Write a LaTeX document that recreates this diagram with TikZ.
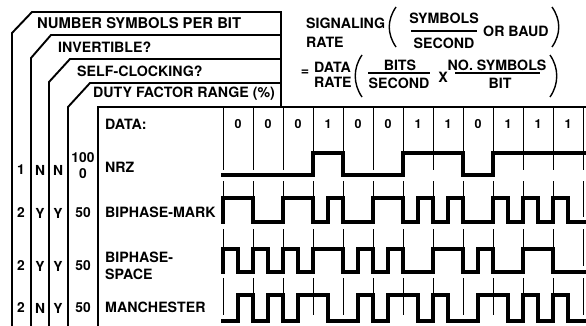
\documentclass[tikz,border=0pt]{standalone}
\usepackage{fontspec}
\setmainfont{TeX Gyre Heros}
\tikzset{
  frame/.style={line width=1.9pt, line join=miter},
  wave/.style={line width=3.6pt, line join=miter, line cap=rect},
  tick/.style={line width=0.9pt},
  paren/.style={line width=1.4pt},
  lbl/.style={font=\fontsize{14.2}{14}\selectfont\bfseries, inner sep=0pt},
  big/.style={font=\fontsize{14.8}{14}\selectfont\bfseries, inner sep=0pt},
  sml/.style={font=\fontsize{13.8}{12}\selectfont\bfseries, inner sep=0pt},
  dig/.style={font=\fontsize{12.5}{12}\selectfont\bfseries, inner sep=0pt},
}
\begin{document}
\begin{tikzpicture}[x=1pt,y=-1pt]
\useasboundingbox (0,0) rectangle (586,326);
% header bands
\draw[frame] (12,326) -- (12,33) -- (32,12) -- (281,12) -- (281,107);
\draw[frame] (31,326) -- (31,58) -- (51,35) -- (281,35);
\draw[frame] (49,326) -- (49,82) -- (70,59) -- (281,59);
\draw[frame] (68,326) -- (68,107) -- (90,83) -- (281,83);
\draw[frame] (98,326) -- (98,107) -- (586,107);
\node[big, anchor=west] (h1) at (37,23) {NUMBER SYMBOLS PER BIT};
\node[lbl, anchor=west] (h2) at (58,47) {INVERTIBLE?};
\node[lbl, anchor=west] (h3) at (77,71) {SELF-CLOCKING?};
\node[lbl, anchor=west] (h4) at (93,94) {DUTY FACTOR RANGE (\%)};
% formula
\node[lbl, anchor=west] (f1) at (306,23) {SIGNALING};
\node[lbl, anchor=west] (f2) at (306,42) {RATE};
\node[lbl] (f3) at (444,18) {SYMBOLS};
\node[lbl] (f4) at (444,43) {SECOND};
\draw[line width=1.1pt] (411,31) -- (477,31);
\node[lbl, anchor=west] (f5) at (483,31) {OR BAUD};
\draw[paren] (396,7) .. controls (387,20) and (387,34) .. (396,47);
\draw[paren] (552,7) .. controls (561,20) and (561,34) .. (552,47);
\node[lbl] (eq) at (305,73) {=};
\node[lbl, anchor=west] (f6) at (314,67) {DATA};
\node[lbl, anchor=west] (f7) at (314,82) {RATE};
\draw[paren] (362,55) .. controls (353,68) and (353,84) .. (362,97);
\node[lbl] (f8) at (400,65) {BITS};
\node[lbl] (f9) at (399,83) {SECOND};
\draw[line width=1.1pt] (368,73) -- (430,73);
\node[lbl] (fx) at (443,77) {X};
\node[lbl] (f10) at (497,65) {NO. SYMBOLS};
\node[lbl] (f11) at (500,83) {BIT};
\draw[line width=1.1pt] (455,73) -- (540,73);
\draw[paren] (550,55) .. controls (559,68) and (559,84) .. (550,97);
% data row
\node[lbl, anchor=west] (data) at (105,124) {DATA:};
\foreach \b [count=\i from 0] in {0,0,0,1,0,0,1,1,0,1,1,1}
  \node[dig] (d\i) at (238+30*\i,124) {\b};
\foreach \i in {0,...,12} {
  \draw[tick] (223+30*\i,107) -- (223+30*\i,170);
  \draw[tick] (223+30*\i,181) -- (223+30*\i,217);
  \draw[tick] (223+30*\i,229) -- (223+30*\i,266);
  \draw[tick] (223+30*\i,278) -- (223+30*\i,315);
}
% rows
\node[sml] (r1a) at (21,170) {1};
\node[sml] (r1b) at (40,170) {N};
\node[sml] (r1c) at (58,170) {N};
\node[sml] (r1d) at (83,158) {100};
\node[sml] (r1e) at (83,174) {0};
\node[lbl, anchor=west] (r1) at (105,167) {NRZ};
\node[sml] (r2a) at (21,213) {2};
\node[sml] (r2b) at (40,213) {Y};
\node[sml] (r2c) at (58,213) {Y};
\node[sml] (r2d) at (83,213) {50};
\node[lbl, anchor=west] (r2) at (105,212) {BIPHASE-MARK};
\node[sml] (r3a) at (21,266) {2};
\node[sml] (r3b) at (40,266) {Y};
\node[sml] (r3c) at (58,266) {Y};
\node[sml] (r3d) at (83,266) {50};
\node[lbl, anchor=west] (r3) at (105,257) {BIPHASE-};
\node[lbl, anchor=west] (r3s) at (105,274) {SPACE};
\node[sml] (r4a) at (21,308) {2};
\node[sml] (r4b) at (40,308) {N};
\node[sml] (r4c) at (58,308) {Y};
\node[sml] (r4d) at (83,308) {50};
\node[lbl, anchor=west] (r4) at (105,307) {MANCHESTER};
% waveforms
\draw[wave] (223,175) -- (313,175) -- (313,153) -- (343,153) -- (343,175) -- (403,175) -- (403,153) -- (463,153) -- (463,175) -- (493,175) -- (493,153) -- (585,153);
\draw[wave] (223,222) -- (223,198) -- (253,198) -- (253,222) -- (283,222) -- (283,198) -- (313,198) -- (313,222) -- (328,222) -- (328,198) -- (343,198) -- (343,222) -- (373,222) -- (373,198) -- (403,198) -- (403,222) -- (418,222) -- (418,198) -- (433,198) -- (433,222) -- (448,222) -- (448,198) -- (463,198) -- (463,222) -- (493,222) -- (493,198) -- (508,198) -- (508,222) -- (523,222) -- (523,198) -- (538,198) -- (538,222) -- (553,222) -- (553,198) -- (568,198) -- (568,222) -- (585,222);
\draw[wave] (223,272) -- (223,249) -- (238,249) -- (238,272) -- (253,272) -- (253,249) -- (268,249) -- (268,272) -- (283,272) -- (283,249) -- (298,249) -- (298,272) -- (313,272) -- (313,249) -- (343,249) -- (343,272) -- (358,272) -- (358,249) -- (373,249) -- (373,272) -- (388,272) -- (388,249) -- (403,249) -- (403,272) -- (433,272) -- (433,249) -- (463,249) -- (463,272) -- (478,272) -- (478,249) -- (493,249) -- (493,272) -- (523,272) -- (523,249) -- (553,249) -- (553,272) -- (585,272);
\draw[wave] (223,321) -- (238,321) -- (238,295) -- (253,295) -- (253,321) -- (268,321) -- (268,295) -- (283,295) -- (283,321) -- (298,321) -- (298,295) -- (328,295) -- (328,321) -- (358,321) -- (358,295) -- (373,295) -- (373,321) -- (388,321) -- (388,295) -- (418,295) -- (418,321) -- (433,321) -- (433,295) -- (448,295) -- (448,321) -- (478,321) -- (478,295) -- (508,295) -- (508,321) -- (523,321) -- (523,295) -- (538,295) -- (538,321) -- (553,321) -- (553,295) -- (568,295) -- (568,321) -- (585,321);
\end{tikzpicture}
\end{document}
